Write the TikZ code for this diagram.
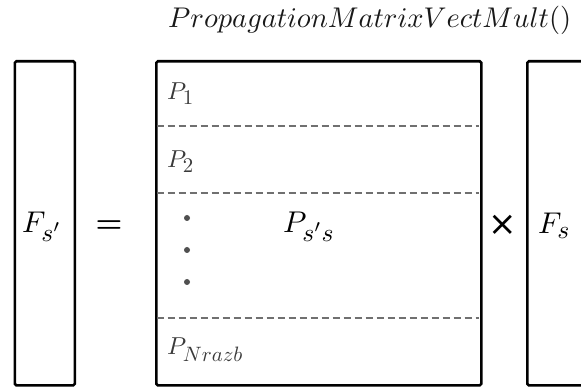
\documentclass[tikz,border=0pt]{standalone}
\usepackage{graphicx}
\usepackage{fontspec}
\newfontfamily\djv{DejaVu Sans}
\definecolor{sepgray}{HTML}{707070}
\definecolor{lblgray}{HTML}{3A3A3A}
\definecolor{dotgray}{HTML}{505050}
\newcommand{\mybigmath}[1]{\scalebox{3.0}{$#1$}}
\newcommand{\mylblmath}[1]{\scalebox{2.45}{$#1$}}
\newcommand{\mysb}[1]{\scalebox{0.85}{$#1$}}
\begin{document}
\begin{tikzpicture}[x=1pt,y=-1pt,
  box/.style={draw=black,line width=2.6pt,rounded corners=1.5pt,inner sep=0pt,anchor=north west},
  sepline/.style={draw=sepgray,line width=1.4pt,dash pattern=on 7pt off 4pt},
  bigtxt/.style={inner sep=0pt,anchor=base west},
  plbl/.style={inner sep=0pt,anchor=base west,text=lblgray},
  dotnode/.style={circle,fill=dotgray,inner sep=0pt,minimum size=6pt}]
\useasboundingbox (0,0) rectangle (581,387);
\clip (0,0) rectangle (581,387);
% title
\node[inner sep=0pt,anchor=base west,text=black!90] (title) at (168,28) {\scalebox{2.85}{$PropagationMatrixVectMult()$}};
% boxes
\node[box,minimum width=60pt,minimum height=324pt] (fl) at (13.5,60) {};
\node[box,minimum width=325pt,minimum height=324pt] (mat) at (155,60) {};
\node[box,minimum width=120pt,minimum height=324pt] (fr) at (526,60) {};
% separators
\coordinate (s1a) at (156.5,126); \coordinate (s1b) at (478.5,126);
\coordinate (s2a) at (156.5,193); \coordinate (s2b) at (478.5,193);
\coordinate (s3a) at (156.5,318); \coordinate (s3b) at (478.5,318);
\draw[sepline] (s1a) -- (s1b);
\draw[sepline] (s2a) -- (s2b);
\draw[sepline] (s3a) -- (s3b);
% row labels
\node[plbl] (p1) at (167,100) {\mylblmath{P_{\mysb{1}}}};
\node[plbl] (p2) at (167,168) {\mylblmath{P_{\mysb{2}}}};
\node[plbl] (pn) at (167,355) {\mylblmath{P_{\mysb{Nrazb}}}};
% dots
\node[dotnode] (d1) at (187,218) {};
\node[dotnode] (d2) at (187,250) {};
\node[dotnode] (d3) at (187,282) {};
% main labels
\node[bigtxt] (fsp) at (22,233) {\mybigmath{F_{\mysb{s'}}}};
\node[inner sep=0pt] (eq) at (109,227) {\scalebox{3}{\boldmath$=$}};
\node[bigtxt] (pss) at (283,233) {\mybigmath{P_{\mysb{s's}}}};
\node[inner sep=0pt,font=\djv\fontsize{34}{38}\selectfont] (times) at (503,225) {×};
\node[bigtxt] (fs) at (538,234) {\mybigmath{F_{\mysb{s}}}};
\end{tikzpicture}
\end{document}
